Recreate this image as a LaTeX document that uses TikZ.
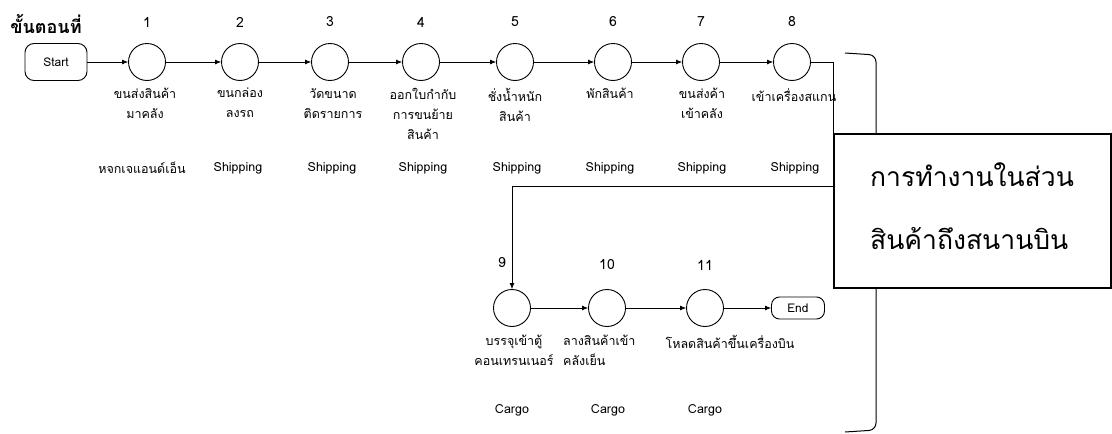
\documentclass[tikz,border=0pt]{standalone}
\usepackage{fontspec}
\setmainfont[Script=Thai]{Loma}
\usetikzlibrary{arrows.meta}
\begin{document}
\begin{tikzpicture}[x=1pt,y=-1pt,
  circ/.style={draw,circle,minimum size=37pt,inner sep=0pt,line width=0.9pt},
  term/.style={draw,rounded corners=9pt,line width=0.9pt,inner sep=0pt,font=\fontsize{12}{14}\selectfont},
  arr/.style={-{Latex[length=6pt,width=5pt]},line width=0.7pt},
  lbl/.style={font=\fontsize{12.5}{20}\selectfont,align=center,anchor=north,inner sep=0pt},
  lblL/.style={font=\fontsize{12.5}{20}\selectfont,align=left,anchor=north west,inner sep=0pt},
  num/.style={font=\fontsize{14}{16}\selectfont,inner sep=0pt},
  role/.style={font=\fontsize{12.5}{15}\selectfont,inner sep=0pt},
  bigbox/.style={draw,line width=2pt,inner sep=0pt},
  bigtxt/.style={font=\fontsize{26.5}{63}\selectfont,align=left,inner sep=0pt}]
\useasboundingbox (0,0) rectangle (1112,434);
% title
\node[font=\bfseries\fontsize{18}{20}\selectfont,inner sep=0pt] (title) at (46,24) {ขั้นตอนที่};
% start
\node[term,minimum width=62pt,minimum height=37pt] (start) at (56,62) {Start};
% top circles
\foreach \i/\x in {1/147,2/240,3/330,4/421,5/515,6/613,7/701,8/792}{
  \node[circ] (c\i) at (\x,62) {};
  \node[num] (n\i) at (\x,22) {\i};
}
\node[lbl] (l1) at (145,88) {ขนส่งสินค้า\\มาคลัง};
\node[lbl] (l2) at (240,88) {ขนกล่อง\\ลงรถ};
\node[lbl] (l3) at (333,88) {วัดขนาด\\ติดรายการ};
\node[lbl] (l4) at (423,88) {ออกใบกำกับ\\การขนย้าย\\สินค้า};
\node[lbl] (l5) at (515,88) {ชั่งน้ำหนัก\\สินค้า};
\node[lbl] (l6) at (610,88) {พักสินค้า};
\node[lbl] (l7) at (702,88) {ขนส่งค้า\\เข้าคลัง};
\node[lbl] (l8) at (794,88) {เข้าเครื่องสแกน};
\node[role] (r1) at (142,168) {หจกเจแอนด์เอ็น};
\foreach \i/\x in {2/238,3/332,4/423,5/517,6/610,7/702,8/795}{
  \node[role] (r\i) at (\x,168) {Shipping};
}
% bottom
\node[circ] (c9) at (512,308) {};
\node[circ] (c10) at (607,308) {};
\node[circ] (c11) at (705,308) {};
\node[num] (n9) at (502,263) {9};
\node[num] (n10) at (607,265) {10};
\node[num] (n11) at (705,265) {11};
\node[term,rounded corners=8pt,minimum width=53pt,minimum height=22pt] (end) at (798,308) {End};
\node[lbl] (l9) at (514,335) {บรรจุเข้าตู้\\คอนเทรนเนอร์};
\node[lblL] (l10) at (563,335) {ลางสินค้าเข้า\\คลังเย็น};
\node[lbl] (l11) at (730,335) {โหลดสินค้าขึ้นเครื่องบิน};
\node[role] (r9) at (512,410) {Cargo};
\node[role] (r10) at (608,410) {Cargo};
\node[role] (r11) at (705,410) {Cargo};
% connectors
\draw[arr] (start) -- (c1);
\draw[arr] (c1) -- (c2);
\draw[arr] (c2) -- (c3);
\draw[arr] (c3) -- (c4);
\draw[arr] (c4) -- (c5);
\draw[arr] (c5) -- (c6);
\draw[arr] (c6) -- (c7);
\draw[arr] (c7) -- (c8);
\coordinate (k1) at (833,62);
\coordinate (k2) at (833,186);
\draw[arr] (c8.east) -- (k1) -- (k2) -| (c9.north);
\draw[arr] (c9) -- (c10);
\draw[arr] (c10) -- (c11);
\draw[arr] (c11) -- (end);
% bracket
\coordinate (b1) at (845,53);
\coordinate (b2) at (845,432);
\draw[line width=1pt,rounded corners=7pt] (b1) -- (876,55) -- (876,430) -- (b2);
% big box
\node[bigbox,fill=white,minimum width=277pt,minimum height=154pt,anchor=north west] (box) at (833,133) {};
\node[bigtxt,anchor=west] (bt) at (870,206) {การทำงานในส่วน\\สินค้าถึงสนานบิน};
\end{tikzpicture}
\end{document}
